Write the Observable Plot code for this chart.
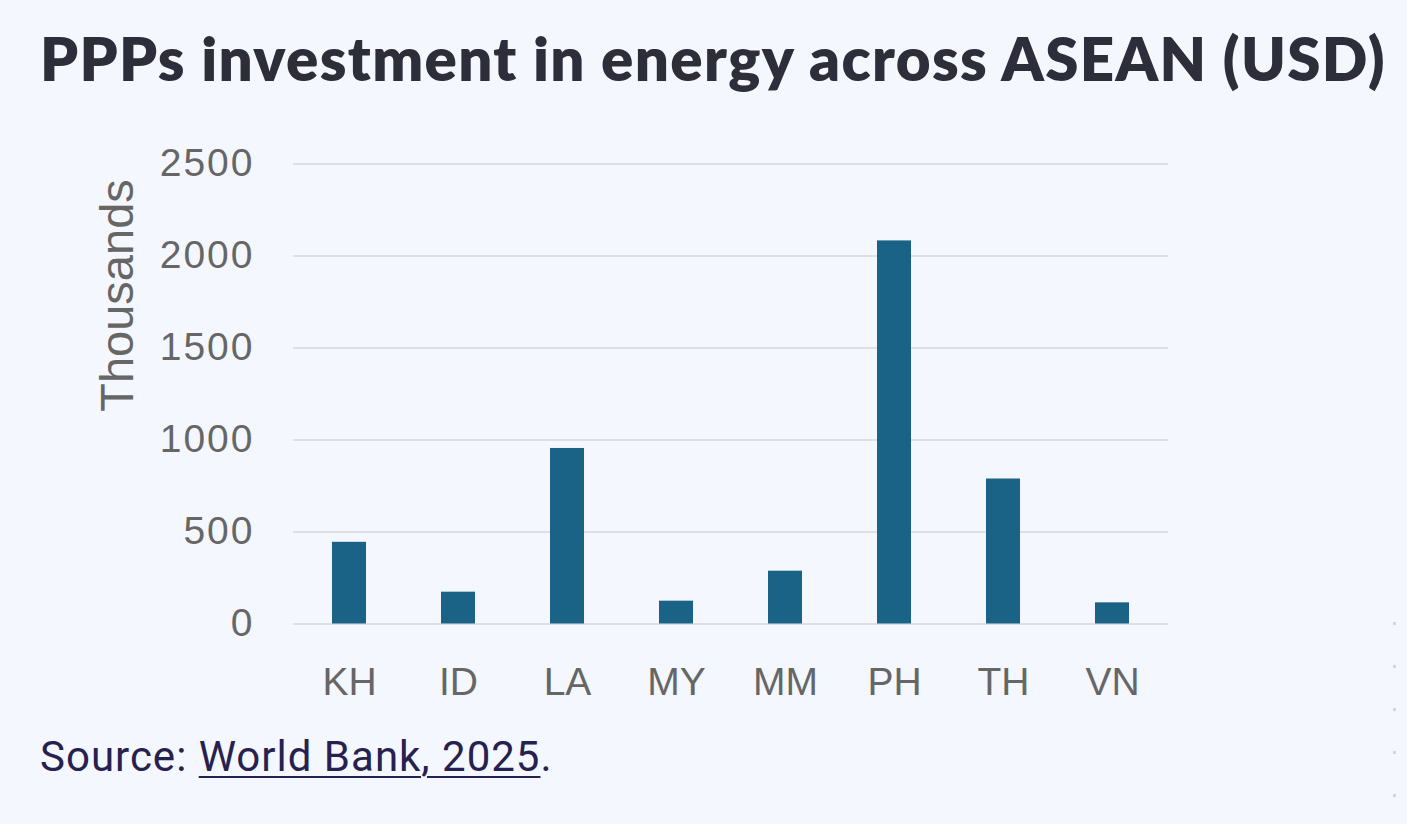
<!DOCTYPE html>
<html>
<head>
<meta charset="utf-8">
<script src="https://cdn.jsdelivr.net/npm/d3@7"></script>
<script src="https://cdn.jsdelivr.net/npm/@observablehq/plot@0.6"></script>
<style>
  html, body { margin: 0; padding: 0; background: #f4f7fd; }
  body { width: 1407px; height: 824px; position: relative; overflow: hidden; }
  #title {
    position: absolute; left: 40px; top: 22px; margin: 0;
    font-family: Lato, "Open Sans", sans-serif; font-weight: 800;
    font-size: 60px; color: #2e2e3a; white-space: nowrap; letter-spacing: 1.35px;
  }
  #chart { position: absolute; left: 0; top: 120px; }
  #chart g[aria-label="y-axis tick label"] text { letter-spacing: 2px; }
  #source {
    position: absolute; left: 40px; top: 732px; margin: 0;
    font-family: Roboto, "Liberation Sans", sans-serif; font-size: 42px;
    color: #27214f; white-space: nowrap; letter-spacing: 1px;
  }
  #source a { color: #27214f; text-decoration: underline; text-decoration-thickness: 2px; text-underline-offset: 5px; }
  #dots { position: absolute; left: 1393px; top: 622px; }
  #dots span { display: block; width: 3px; height: 3px; background: #d3d6de; margin-bottom: 40px; }
</style>
</head>
<body>
<h1 id="title">PPPs investment in energy across ASEAN (USD)</h1>
<div id="chart"></div>
<p id="source">Source: <a>World Bank, 2025</a>.</p>
<div id="dots"><span></span><span></span><span></span><span></span><span></span></div>
<script>
// Country codes along the x axis
const countries = ["KH", "ID", "LA", "MY", "MM", "PH", "TH", "VN"];
// PPP investment in energy, thousands of USD
const investment = [444, 173, 954, 124, 287, 2082, 788, 115];
// Value axis ticks
const yTicks = [0, 500, 1000, 1500, 2000, 2500];

const rows = countries.map((c, i) => ({country: c, value: investment[i]}));

const chart = Plot.plot({
  width: 1407,
  height: 600,
  marginLeft: 293,
  marginRight: 239,
  marginTop: 43.5,
  marginBottom: 96.5,
  style: {background: "transparent", fontFamily: "'Liberation Sans', Arial, sans-serif"},
  x: {domain: countries, paddingInner: 0.685, paddingOuter: 0.34},
  y: {domain: [0, 2500]},
  marks: [
    Plot.ruleY(yTicks, {stroke: "#dedfe3", strokeWidth: 2}),
    Plot.barY(rows, {x: "country", y: "value", fill: "#1a6386"}),
    Plot.axisY(yTicks, {tickSize: 0, tickPadding: 39, fontSize: 39, fill: "#666666", label: null, tickFormat: d3.format("d")}),
    Plot.axisX({tickSize: 0, tickPadding: 43, fontSize: 39, fill: "#666666", label: null}),
    Plot.text(["Thousands"], {
      frameAnchor: "top-left", dx: -176, dy: 131.5, rotate: -90,
      textAnchor: "middle", lineAnchor: "middle", fontSize: 47, fill: "#666666"
    })
  ]
});
document.getElementById("chart").appendChild(chart);
</script>
</body>
</html>
